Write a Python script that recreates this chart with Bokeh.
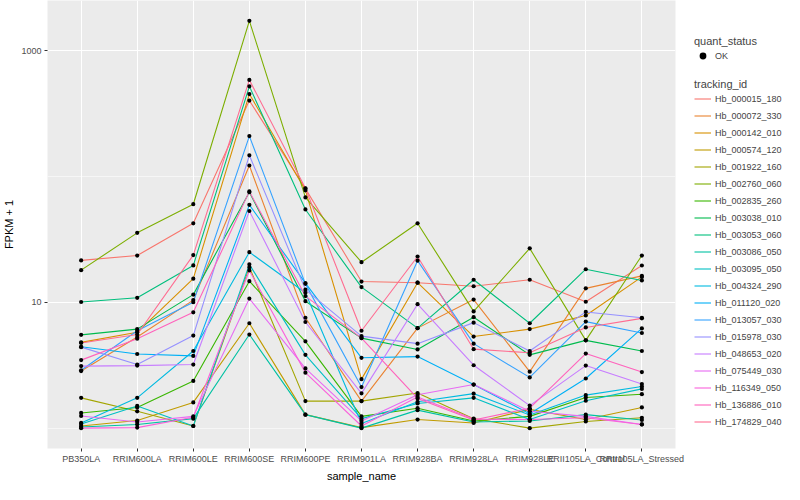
from bokeh.plotting import figure
from bokeh.layouts import row
from bokeh.models import FixedTicker, BasicTickFormatter, Legend, LegendItem, Range1d
from bokeh.embed import file_html
from bokeh.resources import INLINE
import math

samples = ["PB350LA", "RRIM600LA", "RRIM600LE", "RRIM600SE", "RRIM600PE", "RRIM901LA",
           "RRIM928BA", "RRIM928LA", "RRIM928LE", "RRII105LA_Control", "RRII105LA_Stressed"]

tracking_ids = ["Hb_000015_180", "Hb_000072_330", "Hb_000142_010", "Hb_000574_120",
                "Hb_001922_160", "Hb_002760_060", "Hb_002835_260", "Hb_003038_010",
                "Hb_003053_060", "Hb_003086_050", "Hb_003095_050", "Hb_004324_290",
                "Hb_011120_020", "Hb_013057_030", "Hb_015978_030", "Hb_048653_020",
                "Hb_075449_030", "Hb_116349_050", "Hb_136886_010", "Hb_174829_040"]

colors = ["#F8766D", "#EA8331", "#D89000", "#C09B00", "#A3A500", "#7CAE00", "#39B600",
          "#00BB4E", "#00BF7D", "#00C1A3", "#00BFC4", "#00BAE0", "#00B0F6", "#35A2FF",
          "#9590FF", "#C77CFF", "#E76BF3", "#FA62DB", "#FF62BC", "#FF6C91"]

# FPKM + 1 per sample (in the order of `samples`)
Hb_000015_180 = [21.5, 23.5, 42.4, 400, 79.9, 14.6, 14.3, 13.4, 15.1, 10.1, 19.6]
Hb_000072_330 = [2.84, 5.29, 10.4, 122, 7.53, 1.64, 6.23, 10.5, 2.81, 12.9, 16.2]
Hb_000142_010 = [4.80, 5.77, 15.4, 451, 77.5, 2.45, 14.3, 5.34, 6.12, 7.85, 15.9]
Hb_000574_120 = [1.04, 1.15, 1.60, 6.81, 1.28, 1.01, 1.17, 1.10, 1.41, 1.17, 1.46]
Hb_001922_160 = [1.74, 1.36, 1.04, 19.0, 1.64, 1.64, 1.90, 1.19, 1.00, 1.13, 1.21]
Hb_002760_060 = [18.0, 35.6, 60.1, 1720, 68.1, 20.8, 42.4, 8.46, 26.8, 4.98, 23.5]
Hb_002835_260 = [1.32, 1.46, 2.37, 14.7, 4.89, 1.24, 1.44, 1.14, 1.24, 1.75, 1.86]
Hb_003038_010 = [5.51, 6.12, 11.5, 74.8, 10.2, 5.19, 4.22, 7.61, 3.82, 4.98, 4.10]
Hb_003053_060 = [10.05, 10.85, 19.6, 519, 54.6, 13.2, 6.23, 15.1, 6.81, 18.3, 14.9]
Hb_003086_050 = [1.02, 1.07, 1.19, 5.54, 1.28, 1.00, 1.39, 1.12, 1.14, 1.28, 1.16]
Hb_003095_050 = [1.08, 1.50, 1.04, 20.0, 3.82, 1.19, 1.57, 1.74, 1.17, 1.65, 2.05]
Hb_004324_290 = [1.10, 1.74, 4.10, 25.0, 11.9, 1.09, 1.62, 1.88, 1.27, 1.83, 2.14]
Hb_011120_020 = [4.43, 3.88, 3.75, 59.4, 14.2, 3.62, 3.70, 2.22, 1.30, 2.48, 6.20]
Hb_013057_030 = [2.88, 5.94, 10.0, 209, 14.0, 2.12, 21.4, 4.69, 2.53, 7.02, 5.70]
Hb_015978_030 = [4.40, 3.20, 5.44, 147, 12.6, 5.38, 4.69, 6.89, 4.10, 8.38, 7.53]
Hb_048653_020 = [3.11, 3.14, 3.20, 53.1, 6.97, 1.89, 9.65, 3.16, 1.51, 3.14, 2.24]
Hb_075449_030 = [1.25, 1.12, 1.24, 10.7, 2.98, 1.14, 1.84, 2.22, 1.36, 1.24, 1.07]
Hb_116349_050 = [1.00, 1.01, 1.22, 17.9, 2.76, 1.04, 1.77, 1.18, 1.17, 1.21, 1.07]
Hb_136886_010 = [3.47, 5.13, 8.32, 76.0, 11.2, 5.19, 1.72, 1.16, 1.44, 3.91, 2.79]
Hb_174829_040 = [4.75, 5.54, 23.7, 584, 80.5, 5.94, 23.1, 4.24, 3.97, 6.31, 7.45]

series = [Hb_000015_180, Hb_000072_330, Hb_000142_010, Hb_000574_120, Hb_001922_160,
          Hb_002760_060, Hb_002835_260, Hb_003038_010, Hb_003053_060, Hb_003086_050,
          Hb_003095_050, Hb_004324_290, Hb_011120_020, Hb_013057_030, Hb_015978_030,
          Hb_048653_020, Hb_075449_030, Hb_116349_050, Hb_136886_010, Hb_174829_040]

y_ticks = [10, 1000]
y_minor = [1, 100]

FONT = "Liberation Sans"

all_vals = [v for s in series for v in s]
lo, hi = math.log10(min(all_vals)), math.log10(max(all_vals))
pad = 0.05 * (hi - lo)

H = 484
W1 = 685
BL, BR, BT, BB = 39, 10, 0, 32
p = figure(x_range=samples, y_axis_type="log", width=W1, height=H,
           output_backend="svg", toolbar_location=None,
           min_border_left=BL, min_border_right=BR, min_border_top=BT, min_border_bottom=BB)
p.y_range = Range1d(10 ** (lo - pad), 10 ** (hi + pad))
p.x_range.range_padding = 0.1
p.x_range.range_padding_units = "absolute"

p.background_fill_color = "#EBEBEB"
p.border_fill_color = "white"
p.outline_line_color = None

ticker = FixedTicker(ticks=y_ticks, minor_ticks=y_minor)
p.yaxis.ticker = ticker
p.ygrid.ticker = ticker
p.yaxis.formatter = BasicTickFormatter(use_scientific=False)

p.xgrid.grid_line_color = "white"
p.xgrid.grid_line_width = 1.1
p.ygrid.grid_line_color = "white"
p.ygrid.grid_line_width = 1.1
p.ygrid.minor_grid_line_color = "white"
p.ygrid.minor_grid_line_width = 0.55

for ax in (p.xaxis, p.yaxis):
    ax.axis_line_color = None
    ax.major_tick_line_color = "#333333"
    ax.major_tick_line_width = 1
    ax.major_tick_in = 0
    ax.major_tick_out = 3
    ax.minor_tick_line_color = None
    ax.major_label_text_font = FONT
    ax.major_label_text_font_size = "9px"
    ax.major_label_text_color = "#4D4D4D"
    ax.major_label_standoff = 2
    ax.axis_label_text_font = FONT
    ax.axis_label_text_font_size = "11px"
    ax.axis_label_text_font_style = "normal"
    ax.axis_label_text_color = "black"
    ax.axis_label_standoff = 3

p.xaxis.axis_label = "sample_name"
p.yaxis.axis_label = "FPKM + 1"

for col, vals in zip(colors, series):
    p.line(samples, vals, line_color=col, line_width=1.1)

xs = [s for vals in series for s in samples]
ys = [v for vals in series for v in vals]
p.scatter(xs, ys, size=4.2, fill_color="black", line_color=None)

# ---- legend panel: the same series drawn outside its visible range, so only the keys show ----
W2 = 784 - W1
lp = figure(width=W2, height=H, output_backend="svg", toolbar_location=None,
            x_axis_location=None, y_axis_location=None,
            x_range=Range1d(0, 1), y_range=Range1d(-2, -1),
            min_border_left=0, min_border_right=0, min_border_top=0, min_border_bottom=0)
lp.outline_line_color = None
lp.background_fill_color = "white"
lp.border_fill_color = "white"
lp.xgrid.visible = False
lp.ygrid.visible = False

idx = list(range(len(samples)))
ok_key = lp.scatter(x=[i for vals in series for i in idx], y=ys, size=4.2,
                    fill_color="black", line_color=None)
line_keys = [lp.line(x=idx, y=vals, line_color=c, line_width=1.1) for c, vals in zip(colors, series)]

def style_legend(lg):
    lg.title_text_font = FONT
    lg.title_text_font_size = "11px"
    lg.title_text_font_style = "normal"
    lg.title_standoff = 0
    lg.label_text_font = FONT
    lg.label_text_font_size = "9px"
    lg.glyph_width = 17
    lg.glyph_height = 17
    lg.label_height = 17
    lg.label_standoff = 4
    lg.spacing = 0
    lg.padding = 2
    lg.margin = 0
    lg.border_line_color = None
    lg.background_fill_color = "white"
    lg.background_fill_alpha = 1

leg1_h = 2 + 13 + 17 + 2
leg2_h = 2 + 13 + 17 * len(tracking_ids) + 2
SHIFT = 41
LX = 9
leg1 = Legend(items=[LegendItem(label="OK", renderers=[ok_key])], title="quant_status",
              location=(LX, H - 25 - leg1_h - SHIFT))
style_legend(leg1)
leg2 = Legend(items=[LegendItem(label=n, renderers=[r]) for n, r in zip(tracking_ids, line_keys)],
              title="tracking_id", location=(LX, H - 68 - leg2_h - SHIFT))
style_legend(leg2)
lp.add_layout(leg1, "center")
lp.add_layout(leg2, "center")

layout = row(p, lp)
open("out.html", "w").write(file_html(layout, INLINE))
